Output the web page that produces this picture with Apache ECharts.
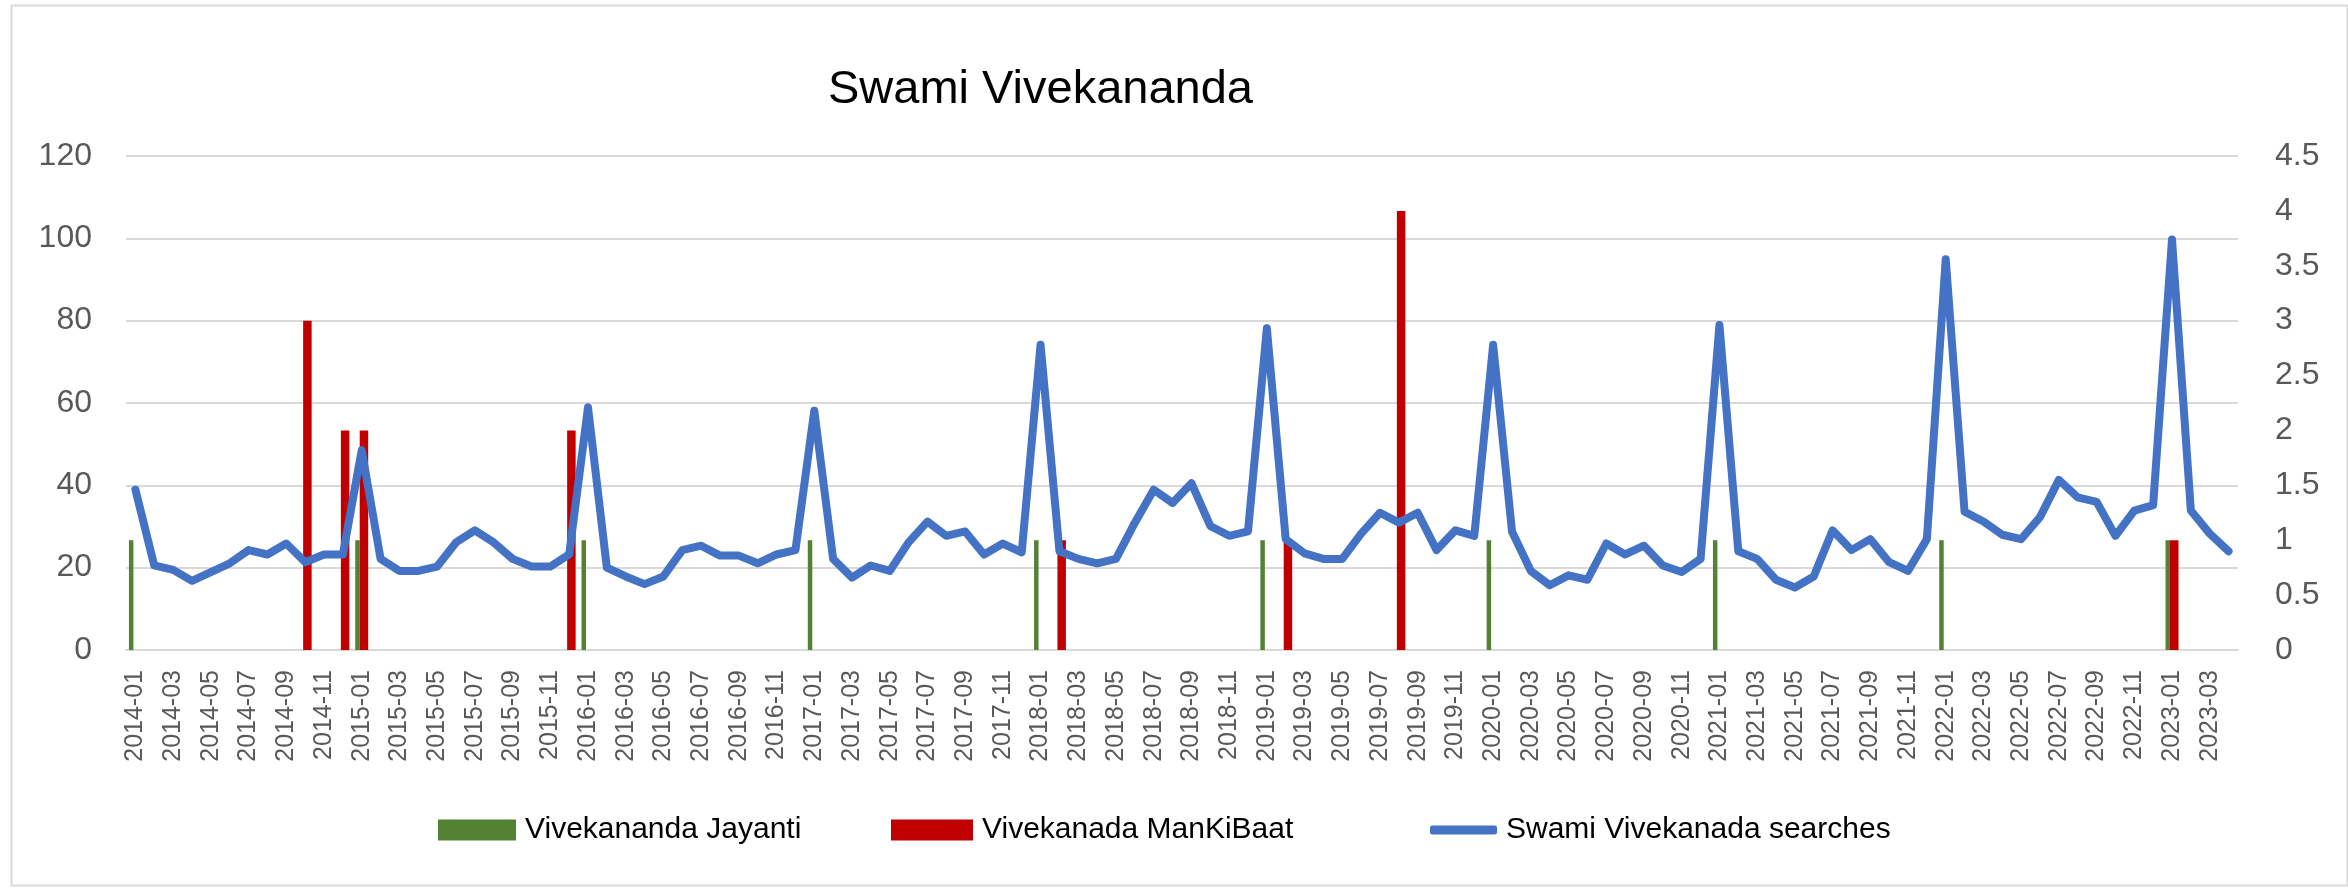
<!DOCTYPE html>
<html>
<head>
<meta charset="utf-8">
<script src="https://cdn.jsdelivr.net/npm/echarts@6/dist/echarts.min.js"></script>
<style>
html,body{margin:0;padding:0;background:#fff;}
#chart{width:2348px;height:891px;}
</style>
</head>
<body>
<div id="chart"></div>
<script>
// ---- data ----
const months = [
'2014-01','2014-02','2014-03','2014-04','2014-05','2014-06','2014-07','2014-08','2014-09','2014-10','2014-11','2014-12',
'2015-01','2015-02','2015-03','2015-04','2015-05','2015-06','2015-07','2015-08','2015-09','2015-10','2015-11','2015-12',
'2016-01','2016-02','2016-03','2016-04','2016-05','2016-06','2016-07','2016-08','2016-09','2016-10','2016-11','2016-12',
'2017-01','2017-02','2017-03','2017-04','2017-05','2017-06','2017-07','2017-08','2017-09','2017-10','2017-11','2017-12',
'2018-01','2018-02','2018-03','2018-04','2018-05','2018-06','2018-07','2018-08','2018-09','2018-10','2018-11','2018-12',
'2019-01','2019-02','2019-03','2019-04','2019-05','2019-06','2019-07','2019-08','2019-09','2019-10','2019-11','2019-12',
'2020-01','2020-02','2020-03','2020-04','2020-05','2020-06','2020-07','2020-08','2020-09','2020-10','2020-11','2020-12',
'2021-01','2021-02','2021-03','2021-04','2021-05','2021-06','2021-07','2021-08','2021-09','2021-10','2021-11','2021-12',
'2022-01','2022-02','2022-03','2022-04','2022-05','2022-06','2022-07','2022-08','2022-09','2022-10','2022-11','2022-12',
'2023-01','2023-02','2023-03','2023-04'
];

const jayanti = [
1,'-','-','-','-','-','-','-','-','-','-','-',
1,'-','-','-','-','-','-','-','-','-','-','-',
1,'-','-','-','-','-','-','-','-','-','-','-',
1,'-','-','-','-','-','-','-','-','-','-','-',
1,'-','-','-','-','-','-','-','-','-','-','-',
1,'-','-','-','-','-','-','-','-','-','-','-',
1,'-','-','-','-','-','-','-','-','-','-','-',
1,'-','-','-','-','-','-','-','-','-','-','-',
1,'-','-','-','-','-','-','-','-','-','-','-',
1,'-','-','-'
];

const manKiBaat = [
'-','-','-','-','-','-','-','-','-',3,'-',2,
2,'-','-','-','-','-','-','-','-','-','-',2,
'-','-','-','-','-','-','-','-','-','-','-','-',
'-','-','-','-','-','-','-','-','-','-','-','-',
'-',1,'-','-','-','-','-','-','-','-','-','-',
'-',1,'-','-','-','-','-',4,'-','-','-','-',
'-','-','-','-','-','-','-','-','-','-','-','-',
'-','-','-','-','-','-','-','-','-','-','-','-',
'-','-','-','-','-','-','-','-','-','-','-','-',
1,'-','-','-'
];

const searches = [
1.46,0.77,0.73,0.63,0.71,0.79,0.91,0.87,0.97,0.80,0.87,0.87,
1.82,0.83,0.72,0.72,0.76,0.98,1.09,0.98,0.83,0.76,0.76,0.87,
2.21,0.75,0.67,0.60,0.67,0.91,0.95,0.86,0.86,0.79,0.87,0.91,
2.18,0.83,0.66,0.77,0.72,0.98,1.17,1.04,1.08,0.87,0.97,0.89,
2.78,0.90,0.83,0.79,0.83,1.16,1.46,1.34,1.52,1.13,1.04,1.08,
2.93,1.01,0.88,0.83,0.83,1.06,1.25,1.16,1.25,0.91,1.09,1.04,
2.78,1.08,0.72,0.59,0.68,0.64,0.97,0.87,0.95,0.77,0.71,0.83,
2.96,0.90,0.83,0.64,0.57,0.67,1.09,0.91,1.01,0.80,0.72,1.01,
3.56,1.26,1.17,1.05,1.01,1.21,1.55,1.39,1.35,1.04,1.27,1.32,
3.74,1.27,1.06,0.90
];

const leftTicks = {min:0, max:120, interval:20};
const rightTicks = {min:0, max:4.5, interval:0.5};

// ---- chart ----
const FONT = 'Liberation Sans';
const chart = echarts.init(document.getElementById('chart'), null, {renderer:'canvas'});
const legendText = {fontFamily:FONT, fontSize:30, color:'#000', padding:[0,0,0,4]};
chart.setOption({
  animation:false,
  backgroundColor:'#ffffff',
  title:{
    text:'Swami Vivekananda', left:828, top:67, padding:0,
    textStyle:{fontFamily:FONT, fontSize:47, fontWeight:'normal', color:'#000'}
  },
  graphic:[{
    type:'rect', left:9, top:3, silent:true,
    shape:{width:2336, height:880},
    style:{fill:'none', stroke:'#D9D9D9', lineWidth:2}
  }],
  legend:[
    {data:[{name:'Vivekananda Jayanti', icon:'rect'}], left:438, top:815, padding:0, itemWidth:78, itemHeight:21, textStyle:legendText},
    {data:[{name:'Vivekanada ManKiBaat', icon:'rect'}], left:891, top:815, padding:0, itemWidth:82, itemHeight:21, textStyle:legendText},
    {data:[{name:'Swami Vivekanada searches', icon:'roundRect'}], left:1430, top:815, padding:0, itemWidth:67, itemHeight:9,
     itemStyle:{color:'#4472C4', borderWidth:0}, textStyle:legendText}
  ],
  grid:{left:126, right:110, top:156, bottom:241},
  xAxis:{
    type:'category', data:months, boundaryGap:true,
    axisTick:{show:false},
    axisLine:{lineStyle:{color:'#D9D9D9', width:2}},
    axisLabel:{rotate:90, interval:1, margin:20, fontFamily:FONT, fontSize:25, color:'#595959'}
  },
  yAxis:[
    {type:'value', min:leftTicks.min, max:leftTicks.max, interval:leftTicks.interval, position:'left',
     axisLine:{show:false}, axisTick:{show:false},
     splitLine:{lineStyle:{color:'#D9D9D9', width:2}},
     axisLabel:{margin:34, fontFamily:FONT, fontSize:32, color:'#595959'}},
    {type:'value', min:rightTicks.min, max:rightTicks.max, interval:rightTicks.interval, position:'right',
     axisLine:{show:false}, axisTick:{show:false}, splitLine:{show:false},
     axisLabel:{margin:37, fontFamily:FONT, fontSize:32, color:'#595959'}}
  ],
  series:[
    {name:'Vivekananda Jayanti', type:'bar', yAxisIndex:1, data:jayanti, barWidth:4.5, barGap:'0%',
     itemStyle:{color:'#548235'}},
    {name:'Vivekanada ManKiBaat', type:'bar', yAxisIndex:1, data:manKiBaat, barWidth:8.5, barGap:'0%',
     itemStyle:{color:'#C00000'}},
    {name:'Swami Vivekanada searches', type:'line', yAxisIndex:1, data:searches, symbol:'none',
     lineStyle:{color:'#4472C4', width:8, join:'round', cap:'round'}, itemStyle:{color:'#4472C4'}, z:3}
  ]
});
</script>
</body>
</html>
